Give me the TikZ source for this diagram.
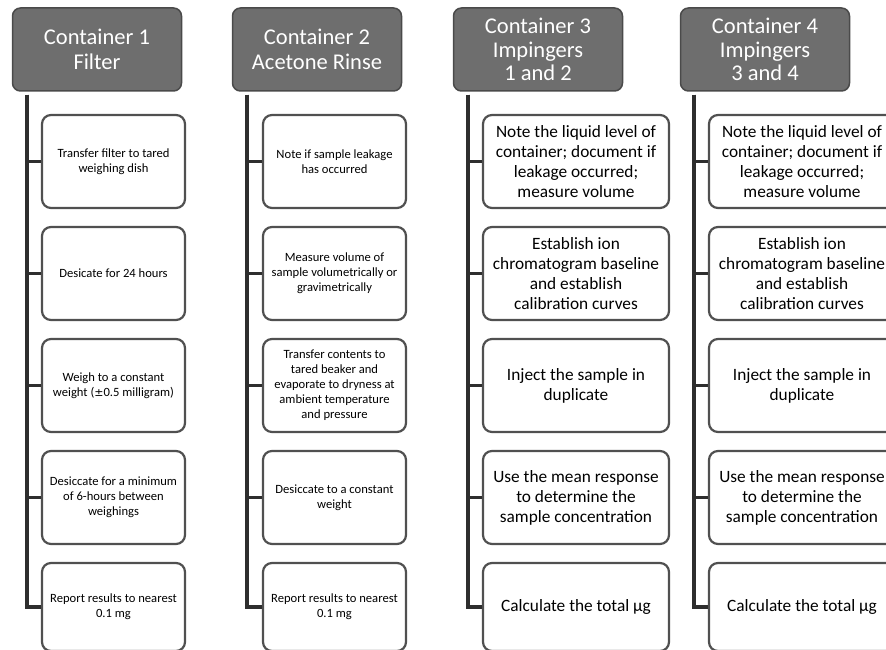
\documentclass[tikz,border=0pt]{standalone}
\usepackage{fontspec}
\setmainfont{Carlito}
\definecolor{hdrfill}{HTML}{6E6E6E}
\definecolor{hdrline}{HTML}{4A4A4A}
\definecolor{linecol}{HTML}{2E2E2E}
\definecolor{boxline}{HTML}{505050}
\tikzset{
  hdr/.style={draw=hdrline, line width=1.5pt, fill=hdrfill, rounded corners=8pt,
    minimum width=169pt, minimum height=83pt, inner sep=0pt, align=center,
    text=white, font=\fontsize{22.5}{23.5}\selectfont},
  smallbox/.style={draw=boxline, line width=2.2pt, fill=white, rounded corners=9pt,
    minimum width=143pt, minimum height=93pt, inner sep=0pt, align=center,
    font=\fontsize{12.6}{15}\selectfont},
  bigbox/.style={draw=boxline, line width=2.2pt, fill=white, rounded corners=9pt,
    minimum width=186pt, minimum height=93pt, inner sep=0pt, align=center,
    font=\fontsize{17.3}{20}\selectfont},
  lastrow/.style={minimum height=88pt},
  conn/.style={draw=linecol, line width=3.8pt}
}
\begin{document}
\begin{tikzpicture}[x=1pt,y=-1pt]
\useasboundingbox (0,0) rectangle (886,650);
\clip (0,0) rectangle (886,650);
% headers
\node[hdr] (h1) at (97,49.5) {Container 1\\[1.5pt]Filter};
\node[hdr] (h2) at (317,49.5) {Container 2\\[1.5pt]Acetone Rinse};
\node[hdr] (h3) at (538,49.5) {Container 3\\Impingers\\1 and 2};
\node[hdr] (h4) at (765,49.5) {Container 4\\Impingers\\3 and 4};
% trunk tops
\coordinate (t1) at (27,95);
\coordinate (t2) at (247,95);
\coordinate (t3) at (468,95);
\coordinate (t4) at (694,95);
% column 1
\node[smallbox] (a1) at (113.5,161.5) {Transfer filter to tared\\weighing dish};
\node[smallbox] (a2) at (113.5,273.5) {Desicate for 24 hours};
\node[smallbox] (a3) at (113.5,385.5) {Weigh to a constant\\weight ({\fontspec{DejaVu Sans}\fontsize{11}{15}\selectfont ±}0.5 milligram)};
\node[smallbox] (a4) at (113.5,497.5) {Desiccate for a minimum\\of 6-hours between\\weighings};
\node[smallbox,lastrow] (a5) at (113.5,607) {Report results to nearest\\0.1 mg};
% column 2
\node[smallbox] (b1) at (334.5,161.5) {Note if sample leakage\\has occurred};
\node[smallbox] (b2) at (334.5,273.5) {Measure volume of\\sample volumetrically or\\gravimetrically};
\node[smallbox] (b3) at (334.5,385.5) {Transfer contents to\\tared beaker and\\evaporate to dryness at\\ambient temperature\\and pressure};
\node[smallbox] (b4) at (334.5,497.5) {Desiccate to a constant\\weight};
\node[smallbox,lastrow] (b5) at (334.5,607) {Report results to nearest\\0.1 mg};
% column 3
\node[bigbox] (c1) at (576,161.5) {Note the liquid level of\\container; document if\\leakage occurred;\\measure volume};
\node[bigbox] (c2) at (576,273.5) {Establish ion\\chromatogram baseline\\and establish\\calibration curves};
\node[bigbox] (c3) at (576,385.5) {Inject the sample in\\duplicate};
\node[bigbox] (c4) at (576,497.5) {Use the mean response\\to determine the\\sample concentration};
\node[bigbox,lastrow] (c5) at (576,607) {Calculate the total µg};
% column 4
\node[bigbox] (d1) at (802,161.5) {Note the liquid level of\\container; document if\\leakage occurred;\\measure volume};
\node[bigbox] (d2) at (802,273.5) {Establish ion\\chromatogram baseline\\and establish\\calibration curves};
\node[bigbox] (d3) at (802,385.5) {Inject the sample in\\duplicate};
\node[bigbox] (d4) at (802,497.5) {Use the mean response\\to determine the\\sample concentration};
\node[bigbox,lastrow] (d5) at (802,607) {Calculate the total µg};
% connectors
\foreach \t/\c in {t1/a,t2/b,t3/c,t4/d}{
  \foreach \i in {1,...,5}{
    \draw[conn] (\t) |- (\c\i.west);
  }
}
\end{tikzpicture}
\end{document}
